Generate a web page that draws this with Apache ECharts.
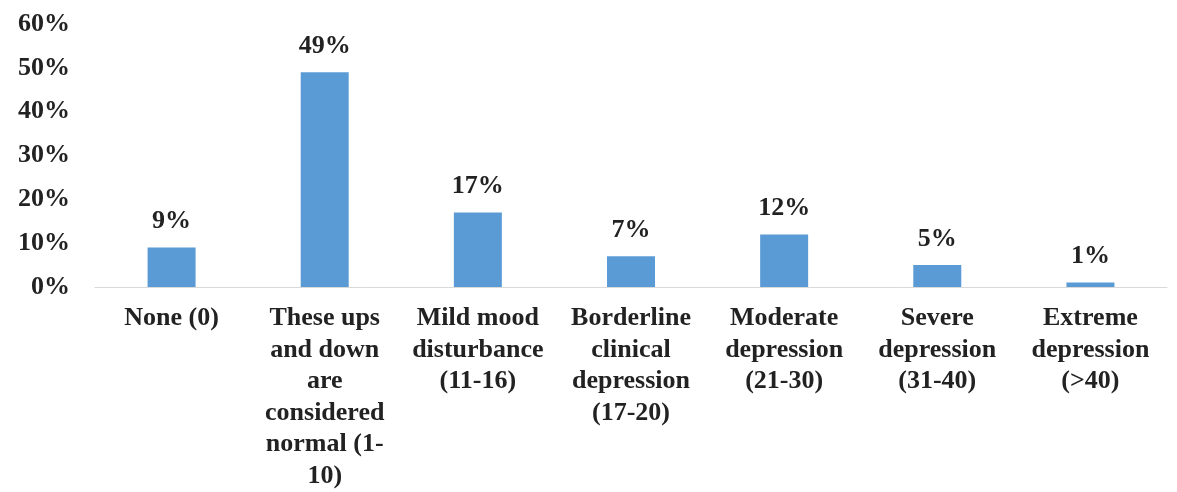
<!DOCTYPE html>
<html>
<head>
<meta charset="utf-8">
<style>
  html, body { margin: 0; padding: 0; background: #fff; }
  #chart { width: 1177px; height: 492px; }
</style>
<script src="https://cdn.jsdelivr.net/npm/echarts@6/dist/echarts.min.js"></script>
</head>
<body>
<div id="chart"></div>
<script>
// Depression score categories (line breaks as printed under the axis)
const categories = [
  'None (0)',
  'These ups\nand down\nare\nconsidered\nnormal (1-\n10)',
  'Mild mood\ndisturbance\n(11-16)',
  'Borderline\nclinical\ndepression\n(17-20)',
  'Moderate\ndepression\n(21-30)',
  'Severe\ndepression\n(31-40)',
  'Extreme\ndepression\n(>40)'
];
// Share of respondents in each category, percent
const shares = [9, 49, 17, 7, 12, 5, 1];
// Value axis range and step, percent
const axisMin = 0;
const axisMax = 60;
const axisStep = 10;

const textColor = '#222222';
const fontFamily = '"Liberation Serif", "Times New Roman", serif';

const chart = echarts.init(document.getElementById('chart'), null, { renderer: 'canvas' });
chart.setOption({
  animation: false,
  textStyle: { fontFamily: fontFamily },
  grid: { left: 95, right: 10, top: 24, bottom: 199, containLabel: false },
  xAxis: {
    type: 'category',
    data: categories,
    axisLine: { show: true, lineStyle: { color: '#D9D9D9', width: 1 } },
    axisTick: { show: false },
    axisLabel: {
      interval: 0,
      margin: 16,
      color: textColor,
      fontFamily: fontFamily,
      fontWeight: 'bold',
      fontSize: 26,
      lineHeight: 31.5,
      align: 'center'
    }
  },
  yAxis: {
    type: 'value',
    min: axisMin,
    max: axisMax,
    interval: axisStep,
    axisLine: { show: false },
    axisTick: { show: false },
    splitLine: { show: false },
    axisLabel: {
      margin: 25,
      color: textColor,
      fontFamily: fontFamily,
      fontWeight: 'bold',
      fontSize: 26,
      formatter: v => v + '%'
    }
  },
  series: [{
    type: 'bar',
    data: shares,
    barWidth: 48,
    itemStyle: { color: '#5B9BD5' },
    label: {
      show: true,
      position: 'top',
      distance: 13,
      color: textColor,
      fontFamily: fontFamily,
      fontWeight: 'bold',
      fontSize: 26,
      formatter: p => p.value + '%'
    }
  }]
});
</script>
</body>
</html>
